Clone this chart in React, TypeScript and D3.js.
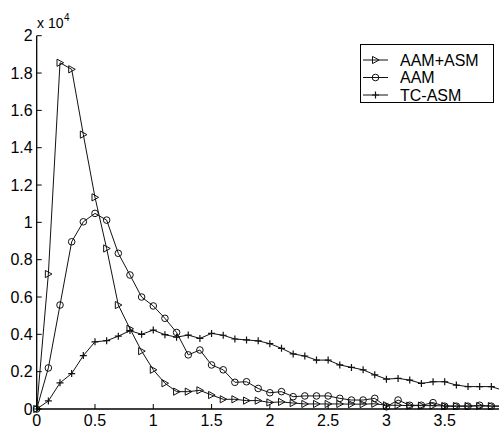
import React from 'react';
import * as d3 from 'd3';

// sample positions (x axis)
const xs = [
  0, 0.1, 0.2, 0.3, 0.4, 0.5, 0.6, 0.7, 0.8, 0.9,
  1.0, 1.1, 1.2, 1.3, 1.4, 1.5, 1.6, 1.7, 1.8, 1.9,
  2.0, 2.1, 2.2, 2.3, 2.4, 2.5, 2.6, 2.7, 2.8, 2.9,
  3.0, 3.1, 3.2, 3.3, 3.4, 3.5, 3.6, 3.7, 3.8, 3.9, 4.0,
];

// values in units of 10^4
const aamAsm = [
  0, 0.723, 1.855, 1.82, 1.47, 1.134, 0.86, 0.557, 0.43, 0.31,
  0.21, 0.138, 0.093, 0.093, 0.1, 0.075, 0.052, 0.052, 0.045, 0.045,
  0.035, 0.038, 0.032, 0.027, 0.027, 0.027, 0.027, 0.026, 0.026, 0.028,
  0.02, 0.02, 0.018, 0.018, 0.018, 0.016, 0.016, 0.016, 0.016, 0.016, 0.016,
];
const aam = [
  0, 0.22, 0.557, 0.896, 1.003, 1.048, 1.012, 0.834, 0.718, 0.6,
  0.552, 0.486, 0.41, 0.29, 0.316, 0.236, 0.21, 0.143, 0.146, 0.11,
  0.087, 0.093, 0.066, 0.07, 0.07, 0.07, 0.057, 0.048, 0.048, 0.057,
  0.012, 0.048, 0.02, 0.02, 0.034, 0.015, 0.015, 0.015, 0.02, 0.015, 0.015,
];
const tcAsm = [
  0, 0.043, 0.14, 0.19, 0.286, 0.36, 0.366, 0.39, 0.42, 0.4,
  0.423, 0.398, 0.385, 0.396, 0.378, 0.405, 0.395, 0.375, 0.37, 0.365,
  0.35, 0.325, 0.295, 0.284, 0.262, 0.262, 0.236, 0.223, 0.21, 0.183,
  0.16, 0.164, 0.155, 0.137, 0.146, 0.146, 0.128, 0.12, 0.12, 0.12, 0.1,
];

// the 4 tick sits just past the right edge of the picture, so it carries no label
const xTicks = [0, 0.5, 1, 1.5, 2, 2.5, 3, 3.5];
const yTicks = [0, 0.2, 0.4, 0.6, 0.8, 1, 1.2, 1.4, 1.6, 1.8, 2];
const legendNames = ['AAM+ASM', 'AAM', 'TC-ASM'];

const W = 499;
const H = 429;
const left = 36.7;
const right = 503;
const top = 35.7;
const bottom = 409;
const font = 'Arial, "Liberation Sans", sans-serif';
const ink = '#111';

const x = d3.scaleLinear().domain([0, 4]).range([left, right]);
const y = d3.scaleLinear().domain([0, 2]).range([bottom, top]);

const triPath = 'M-3,-3.6L3.6,0L-3,3.6Z';
const plusPath = 'M-3.5,0H3.5M0,-3.5V3.5';

function Marker({ kind, cx, cy }: { kind: string; cx: number; cy: number }) {
  if (kind === 'tri') {
    return <path d={triPath} transform={`translate(${cx},${cy})`} fill="none" stroke={ink} strokeWidth={1} />;
  }
  if (kind === 'circ') {
    return <circle cx={cx} cy={cy} r={3.3} fill="none" stroke={ink} strokeWidth={1} />;
  }
  return <path d={plusPath} transform={`translate(${cx},${cy})`} fill="none" stroke={ink} strokeWidth={1.2} />;
}

export default function App() {
  const series = [
    { name: legendNames[0], kind: 'tri', values: aamAsm },
    { name: legendNames[1], kind: 'circ', values: aam },
    { name: legendNames[2], kind: 'plus', values: tcAsm },
  ];

  const line = d3
    .line<number>()
    .x((_, i) => x(xs[i]))
    .y((d) => y(d));

  return (
    <div style={{ position: 'absolute', left: 0, top: 0, width: W, height: H, background: '#fff' }}>
      <svg width={W} height={H} style={{ display: 'block', fontFamily: font }}>
        <rect width={W} height={H} fill="#fff" />

        {/* series */}
        {series.map((s) => (
          <g key={s.name}>
            <path d={line(s.values) || ''} fill="none" stroke={ink} strokeWidth={1} />
            {s.values.map((v, i) => (
              <Marker key={i} kind={s.kind} cx={x(xs[i])} cy={y(v)} />
            ))}
          </g>
        ))}

        {/* axes */}
        <line x1={left} x2={right} y1={bottom} y2={bottom} stroke="#000" strokeWidth={1.3} />
        <line x1={left} x2={left} y1={top} y2={bottom} stroke="#000" strokeWidth={1.3} />

        {yTicks.map((t) => (
          <g key={'y' + t}>
            <line x1={left} x2={left + 5} y1={y(t)} y2={y(t)} stroke="#000" />
            <text x={left - 4} y={y(t) + 5.5} fontSize={16} textAnchor="end" fill="#000">
              {d3.format('~g')(t)}
            </text>
          </g>
        ))}
        {xTicks.map((t) => (
          <g key={'x' + t}>
            <line x1={x(t)} x2={x(t)} y1={bottom} y2={bottom - 5} stroke="#000" />
            <text x={x(t)} y={bottom + 16.5} fontSize={16} textAnchor="middle" fill="#000">
              {d3.format('~g')(t)}
            </text>
          </g>
        ))}

        {/* exponent label */}
        <text x={37} y={28} fontSize={14} fill="#000">x 10</text>
        <text x={64} y={21} fontSize={10} fill="#000">4</text>

        {/* legend */}
        <rect x={360.5} y={44.5} width={133} height={58} fill="#fff" stroke="#000" strokeWidth={1} />
        {series.map((s, i) => {
          const ly = 60 + i * 17.5;
          return (
            <g key={'lg' + s.name}>
              <line x1={363} x2={388} y1={ly} y2={ly} stroke={ink} strokeWidth={1} />
              <Marker kind={s.kind} cx={375.5} cy={ly} />
              <text x={400} y={ly + 5.8} fontSize={16} fill="#000">{s.name}</text>
            </g>
          );
        })}
      </svg>
    </div>
  );
}
